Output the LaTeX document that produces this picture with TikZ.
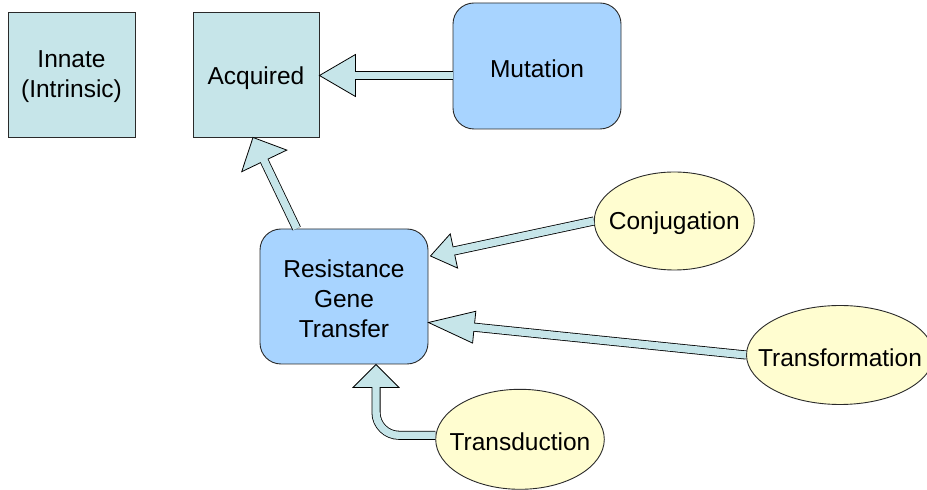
\documentclass[tikz,border=0pt]{standalone}
\usepackage{fontspec}
\setmainfont{Liberation Sans}
\usetikzlibrary{calc,shapes.geometric}

\definecolor{boxfill}{HTML}{C6E5E9}
\definecolor{roundfill}{HTML}{A8D4FF}
\definecolor{ovalfill}{HTML}{FFFDD0}
\definecolor{edge}{HTML}{2A2A2A}

\tikzset{
  big/.style={font=\fontsize{24.5}{30}\selectfont},
  sqbox/.style={draw=edge, fill=boxfill, line width=0.9pt, inner sep=0pt},
  rbox/.style={draw=edge, fill=roundfill, line width=0.9pt, inner sep=0pt,
               rounded corners=21pt},
  oval/.style={ellipse, draw=edge, fill=ovalfill, line width=0.9pt, inner sep=0pt},
  txt/.style={big, inner sep=0pt, align=center, yshift=-2.5pt},
  headstyle/.style={draw=black, fill=boxfill, line width=0.8pt, line join=miter},
  shaftout/.style={draw=black, line width=9.0pt},
  shaftin/.style={draw=boxfill, line width=7.4pt},
}

% straight block arrow: #1 tail, #2 tip, #3 head length, #4 head half width
\newcommand{\blockarr}[4]{%
  \coordinate (hb) at ($(#2)!#3!(#1)$);
  \coordinate (hc) at ($(hb)!1.5pt!(#2)$);
  \filldraw[headstyle] (#2) -- ($(hb)!#4!90:(#2)$) -- ($(hb)!#4!-90:(#2)$) -- cycle;
  \draw[shaftout] (#1) -- (hb);
  \draw[shaftin] (#1) -- (hc);
}

\begin{document}
\begin{tikzpicture}[x=1pt, y=1pt]
  \useasboundingbox (0,0) rectangle (927,490);

  % boxes
  \node[sqbox, minimum width=127pt, minimum height=125pt] (innate) at (71.5,415.5) {};
  \node[txt] at (innate.center) {Innate\\(Intrinsic)};
  \node[sqbox, minimum width=126pt, minimum height=125pt] (acq) at (256,415.5) {};
  \node[txt, yshift=-1pt] at (acq.center) {Acquired};
  \node[rbox, minimum width=168pt, minimum height=126pt] (mut) at (537,424) {};
  \node[txt] at (mut.center) {Mutation};
  \node[rbox, minimum width=168pt, minimum height=135pt] (rgt) at (344,193.5) {};
  \node[txt] at (rgt.center) {Resistance\\Gene\\Transfer};

  % mechanisms
  \node[oval, minimum width=160pt, minimum height=98pt] (conj) at (674.3,269) {};
  \node[txt] at (conj.center) {Conjugation};
  \node[oval, minimum width=187pt, minimum height=99pt] (tf) at (840,135) {};
  \node[txt] at (tf.center) {Transformation};
  \node[oval, minimum width=168.6pt, minimum height=100pt] (td) at (520,50.7) {};
  \node[txt] at (td.center) {Transduction};

  % straight arrows
  \coordinate (m1) at ($(mut.west |- acq.east)+(0,-1)$);
  \coordinate (a1) at ($(acq.east)+(0,-1)$);
  \blockarr{m1}{a1}{36pt}{21pt}

  \coordinate (r2) at ($(rgt.north west)!0.22!(rgt.north east)$);
  \coordinate (a2) at ($(acq.south)+(-3,0)$);
  \blockarr{r2}{a2}{26pt}{25pt}

  \coordinate (t3) at ($(rgt.east)+(2,40.5)$);
  \blockarr{conj.west}{t3}{24pt}{17.5pt}

  \coordinate (t4) at ($(rgt.east)+(0,-26)$);
  \blockarr{tf.west}{t4}{46pt}{16pt}

  % curved arrow from transduction
  \coordinate (t5) at ($(rgt.south)+(32,0)$);
  \coordinate (s5) at ($(td.west)+(0,4)$);
  \coordinate (k5) at (s5 -| t5);
  \coordinate (hb5) at ($(t5)+(0,-23)$);
  \coordinate (hc5) at ($(hb5)+(0,1.5)$);
  \filldraw[headstyle] (t5) -- ($(hb5)+(-23,0)$) -- ($(hb5)+(23,0)$) -- cycle;
  \draw[shaftout] (s5) -- ($(k5)+(23,0)$)
     .. controls ($(k5)+(10.3,0)$) and ($(k5)+(0,10.3)$) .. ($(k5)+(0,23)$) -- (hb5);
  \draw[shaftin] (s5) -- ($(k5)+(23,0)$)
     .. controls ($(k5)+(10.3,0)$) and ($(k5)+(0,10.3)$) .. ($(k5)+(0,23)$) -- (hc5);
\end{tikzpicture}
\end{document}
